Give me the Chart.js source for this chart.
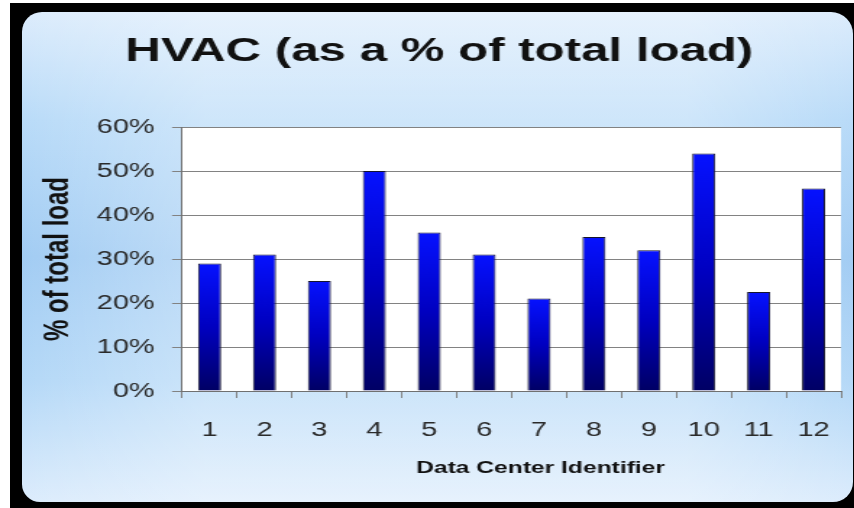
<!DOCTYPE html>
<html>
<head>
<meta charset="utf-8">
<script src="https://cdn.jsdelivr.net/npm/chart.js@4.4.1/dist/chart.umd.min.js"></script>
<style>
html, body { margin: 0; padding: 0; background: #fff; width: 854px; height: 508px; overflow: hidden; }
#frame { position: absolute; left: 10px; top: 3px; width: 844px; height: 505px; background: #000; }
#panel {
    position: absolute; left: 22px; top: 12px; width: 831px; height: 490px;
    border-radius: 20px 22px 20px 18px;
    background:
        linear-gradient(to right, rgba(255,255,255,0) 0%, rgba(255,255,255,0.3) 22%, rgba(255,255,255,0.3) 80%, rgba(255,255,255,0) 100%),
        linear-gradient(to bottom, #dcecfc 0%, #b9dbf8 22%, #a2ccf3 50%, #b4d8f7 75%, #dcecfc 100%);
}
#wrap { position: absolute; left: 0; top: 0; width: 590px; height: 508px; transform: scaleX(1.4475); transform-origin: 0 0; }
</style>
</head>
<body>
<div id="frame"></div>
<div id="panel"></div>
<div id="wrap"><canvas id="chartHvac" width="590" height="508"></canvas></div>
<script>
const centers = ['1', '2', '3', '4', '5', '6', '7', '8', '9', '10', '11', '12'];
const hvacShare = [29, 31, 25, 50, 36, 31, 21, 35, 32, 54, 22.5, 46];
const yTicks = [0, 10, 20, 30, 40, 50, 60];

const fontFamily = '"Liberation Sans", Arial, sans-serif';

// white plot area behind the bars
const plotBg = {
    id: 'plotBg',
    beforeDraw(chart) {
        const {ctx, chartArea} = chart;
        ctx.save();
        ctx.fillStyle = '#ffffff';
        ctx.fillRect(chartArea.left, chartArea.top, chartArea.right - chartArea.left, chartArea.bottom - chartArea.top);
        ctx.restore();
    }
};

// x axis title sits a bit right of centre in the original
const xTitle = {
    id: 'xTitle',
    afterDraw(chart) {
        const {ctx, chartArea} = chart;
        ctx.save();
        ctx.font = 'bold 17px ' + fontFamily;
        ctx.fillStyle = '#111';
        ctx.textAlign = 'center';
        ctx.textBaseline = 'middle';
        ctx.fillText('Data Center Identifier', (chartArea.left + chartArea.right) / 2 + 20, 468);
        ctx.restore();
    }
};

function barFill(context) {
    const chart = context.chart;
    const y = chart.scales.y;
    if (!chart.chartArea || !y) return '#0000cc';
    const top = y.getPixelForValue(context.raw);
    const base = y.getPixelForValue(0);
    const g = chart.ctx.createLinearGradient(0, top, 0, base);
    g.addColorStop(0, '#0612ff');
    g.addColorStop(0.5, '#0000c0');
    g.addColorStop(1, '#000064');
    return g;
}

const ctx = document.getElementById('chartHvac').getContext('2d');
const myChart = new Chart(ctx, {
    type: 'bar',
    data: {
        labels: centers,
        datasets: [{
            label: 'HVAC',
            data: hvacShare,
            backgroundColor: barFill,
            borderColor: '#14142e',
            borderWidth: 1,
            barPercentage: 0.42,
            categoryPercentage: 1
        }]
    },
    options: {
        responsive: false,
        devicePixelRatio: 1,
        animation: false,
        layout: { padding: { top: 12, left: 26, right: 9, bottom: 46 } },
        plugins: {
            legend: { display: false },
            tooltip: { enabled: false },
            title: {
                display: true,
                text: 'HVAC (as a % of total load)',
                color: '#111',
                font: { family: fontFamily, size: 34, weight: 'bold' },
                padding: { top: 19.6, bottom: 54.6 }
            }
        },
        scales: {
            x: {
                // labels sit low under the axis; don't let that padding eat the right side
                afterFit(scale) { scale.paddingLeft = 0; scale.paddingRight = 0; },
                grid: { display: true, drawOnChartArea: false, drawTicks: true, tickLength: 7, color: '#808080' },
                border: { display: true, color: '#707070' },
                ticks: { color: '#2a2a2a', padding: 20, font: { family: fontFamily, size: 20 } }
            },
            y: {
                min: 0,
                max: 60,
                afterBuildTicks(scale) { scale.ticks = yTicks.map(v => ({ value: v })); },
                grid: { color: '#828282', tickLength: 7 },
                border: { display: true, color: '#707070' },
                ticks: {
                    color: '#2a2a2a', padding: 12,
                    font: { family: fontFamily, size: 20 },
                    callback: v => v + '%'
                },
                title: {
                    display: true,
                    text: '% of total load',
                    color: '#111',
                    font: { family: fontFamily, size: 24, weight: 'bold' },
                    padding: { top: 0, bottom: 0 }
                }
            }
        }
    },
    plugins: [plotBg, xTitle]
});
</script>
</body>
</html>
